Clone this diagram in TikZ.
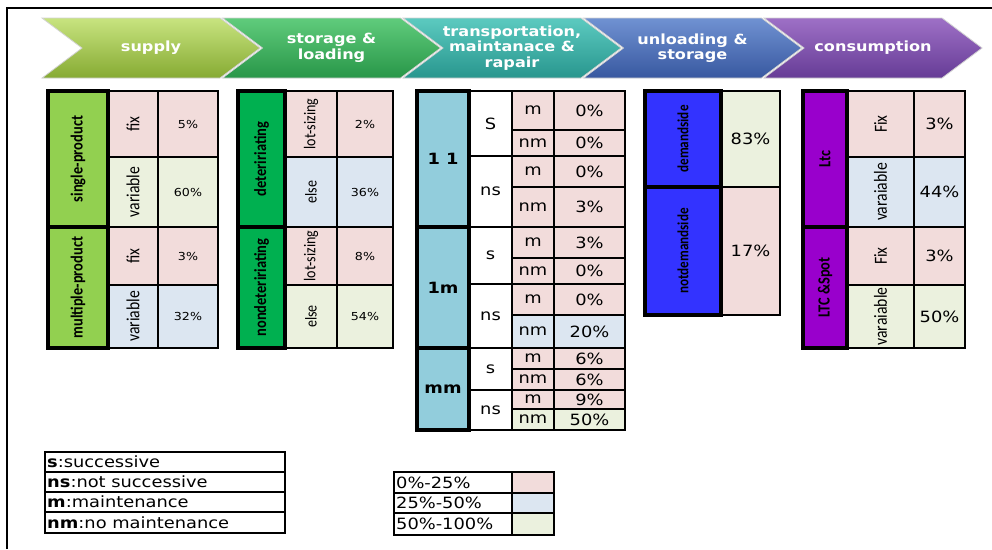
\documentclass[tikz,border=0pt]{standalone}
\usepackage{fontspec}
\setmainfont{DejaVu Sans}[FakeStretch=1.15]
\newfontfamily\calibri{Carlito}[FakeStretch=0.85]
\usetikzlibrary{calc}

\definecolor{lowc}{RGB}{242, 220, 219}
\definecolor{midc}{RGB}{220, 230, 241}
\definecolor{highc}{RGB}{235, 241, 222}
\definecolor{supplyc}{RGB}{146, 208, 80}
\definecolor{storagec}{RGB}{0, 176, 80}
\definecolor{transc}{RGB}{146, 205, 220}
\definecolor{unloadc}{RGB}{51, 51, 255}
\definecolor{consc}{RGB}{153, 0, 204}
\definecolor{chev1top}{RGB}{200, 228, 128}
\definecolor{chev1bot}{RGB}{134, 170, 50}
\definecolor{chev2top}{RGB}{96, 204, 124}
\definecolor{chev2bot}{RGB}{40, 150, 72}
\definecolor{chev3top}{RGB}{92, 202, 192}
\definecolor{chev3bot}{RGB}{40, 150, 142}
\definecolor{chev4top}{RGB}{112, 146, 210}
\definecolor{chev4bot}{RGB}{56, 88, 160}
\definecolor{chev5top}{RGB}{158, 112, 198}
\definecolor{chev5bot}{RGB}{102, 60, 150}

% one table cell: fill, border and a named text node in its centre
\newcommand{\tabcell}[6][]{%
  \draw[grid, fill=#5] (#3) rectangle (#4);
  \node[#1] (#2) at ($(#3)!0.5!(#4)$) {#6};}

\begin{document}
\begin{tikzpicture}[x=1pt, y=-1pt,
    grid/.style={line width=2.4pt, draw=black},
    catline/.style={line width=4.5pt, draw=black},
    cattext/.style={rotate=90, inner sep=0pt, font=\calibri\bfseries\fontsize{17}{17}\selectfont},
    subtext/.style={rotate=90, inner sep=0pt, font=\calibri\fontsize{18.5}{18.5}\selectfont},
    smallsub/.style={subtext, font=\calibri\fontsize{16.5}{16.5}\selectfont},
    smallval/.style={inner sep=0pt, font=\fontsize{11}{12}\selectfont},
    valtext/.style={inner sep=0pt, font=\fontsize{15.5}{15.5}\selectfont},
    boldtext/.style={inner sep=0pt, font=\bfseries\fontsize{15.5}{15.5}\selectfont},
    legtext/.style={anchor=west, inner sep=0pt, font=\fontsize{15.5}{15.5}\selectfont},
    stagetext/.style={text=white, align=center, inner sep=0pt, font=\bfseries\fontsize{14}{15.5}\selectfont}]
    \useasboundingbox (0,0) rectangle (992,549);
    \draw[line width=1.5pt] (7,549) -- (7,8) -- (992,8);

    % process chevrons
    \foreach \i/\L/\txt in {1/42/supply, 2/222.5/{storage \&\\loading},
        3/403/{transportation,\\maintanace \&\\rapair}, 4/583.5/{unloading \&\\storage},
        5/764/consumption}{
      \shade[top color=chev\i top, bottom color=chev\i bot, draw=gray!35, line width=0.8pt]
        (\L,18) -- ++(178,0) -- ++(40,30) -- ++(-40,30) -- ++(-178,0) -- ++(40,-30) -- cycle;
      \node[stagetext] (stage\i) at (\L+109,48) {\txt};
    }

    % supply
    \tabcell[subtext]{sfix}{108,91}{158,157}{lowc}{fix}
    \tabcell[smallval]{sfixv}{158,91}{218,157}{lowc}{5\%}
    \tabcell[subtext]{svar}{108,157}{158,227}{highc}{variable}
    \tabcell[smallval]{svarv}{158,157}{218,227}{highc}{60\%}
    \tabcell[subtext]{mfix}{108,227}{158,285}{lowc}{fix}
    \tabcell[smallval]{mfixv}{158,227}{218,285}{lowc}{3\%}
    \tabcell[subtext]{mvar}{108,285}{158,348}{midc}{variable}
    \tabcell[smallval]{mvarv}{158,285}{218,348}{midc}{32\%}
    \tabcell[cattext]{single}{48,91}{108,227}{supplyc}{single-product}
    \tabcell[cattext]{multiple}{48,227}{108,348}{supplyc}{multiple-product}
    \draw[catline] (48,91) rectangle (108,227) (48,227) rectangle (108,348);

    % storage & loading
    \tabcell[smallsub]{dlot}{285,91}{337,157}{lowc}{lot-sizing}
    \tabcell[smallval]{dlotv}{337,91}{393,157}{lowc}{2\%}
    \tabcell[smallsub]{delse}{285,157}{337,227}{midc}{else}
    \tabcell[smallval]{delsev}{337,157}{393,227}{midc}{36\%}
    \tabcell[smallsub]{nlot}{285,227}{337,285}{lowc}{lot-sizing}
    \tabcell[smallval]{nlotv}{337,227}{393,285}{lowc}{8\%}
    \tabcell[smallsub]{nelse}{285,285}{337,348}{highc}{else}
    \tabcell[smallval]{nelsev}{337,285}{393,348}{highc}{54\%}
    \tabcell[cattext]{deter}{238,91}{285,227}{storagec}{deteririating}
    \tabcell[cattext]{nondeter}{238,227}{285,348}{storagec}{nondeteririating}
    \draw[catline] (238,91) rectangle (285,227) (238,227) rectangle (285,348);

    % transportation, maintanace & repair
    \foreach \ya/\yb/\mm/\v/\c [count=\k] in {91/130/m/0/lowc, 130/156/nm/0/lowc,
        156/187/m/0/lowc, 187/227/nm/3/lowc, 227/258/m/3/lowc, 258/284/nm/0/lowc,
        284/315/m/0/lowc, 315/348/nm/20/midc, 348/369/m/6/lowc, 369/390/nm/6/lowc,
        390/409/m/9/lowc, 409/430/nm/50/highc}{
      \tabcell[valtext]{tm\k}{512,\ya}{554,\yb}{\c}{\mm}
      \tabcell[valtext]{tv\k}{554,\ya}{625,\yb}{\c}{\v\%}
    }
    \foreach \ya/\yb/\s [count=\k] in {91/156/S, 156/227/ns, 227/284/s,
        284/348/ns, 348/390/s, 390/430/ns}{
      \tabcell[valtext]{ts\k}{469,\ya}{512,\yb}{white}{\s}
    }
    \tabcell[boldtext]{one}{417,91}{469,227}{transc}{1 1}
    \tabcell[boldtext]{onem}{417,227}{469,348}{transc}{1m}
    \tabcell[boldtext]{mm}{417,348}{469,430}{transc}{mm}
    \draw[catline] (417,91) rectangle (469,227) (417,227) rectangle (469,348)
        (417,348) rectangle (469,430);

    % unloading & storage
    \tabcell[valtext]{demv}{721,91}{780,187}{highc}{83\%}
    \tabcell[valtext]{ndemv}{721,187}{780,315}{lowc}{17\%}
    \tabcell[cattext, font=\calibri\bfseries\fontsize{15.5}{15.5}\selectfont]{dem}{645,91}{721,187}{unloadc}{demandside}
    \tabcell[cattext, font=\calibri\bfseries\fontsize{15.5}{15.5}\selectfont]{ndem}{645,187}{721,315}{unloadc}{notdemandside}
    \draw[catline] (645,91) rectangle (721,187) (645,187) rectangle (721,315);

    % consumption
    \tabcell[subtext]{lfix}{847,91}{914,157}{lowc}{Fix}
    \tabcell[valtext]{lfixv}{914,91}{965,157}{lowc}{3\%}
    \tabcell[subtext]{lvar}{847,157}{914,227}{midc}{varaiable}
    \tabcell[valtext]{lvarv}{914,157}{965,227}{midc}{44\%}
    \tabcell[subtext]{sfix2}{847,227}{914,285}{lowc}{Fix}
    \tabcell[valtext]{sfix2v}{914,227}{965,285}{lowc}{3\%}
    \tabcell[subtext]{svar2}{847,285}{914,348}{highc}{varaiable}
    \tabcell[valtext]{svar2v}{914,285}{965,348}{highc}{50\%}
    \tabcell[cattext]{ltc}{803,91}{847,227}{consc}{Ltc}
    \tabcell[cattext]{ltcspot}{803,227}{847,348}{consc}{LTC \&Spot}
    \draw[catline] (803,91) rectangle (847,227) (803,227) rectangle (847,348);

    % legends
    \foreach \ya/\yb/\key/\txt [count=\k] in {452/472/s/successive, 472/492/ns/not successive,
        492/512/m/maintenance, 512/533/nm/no maintenance}{
      \draw[grid] (45,\ya) rectangle (285,\yb);
      \node[legtext] (key\k) at (47,{(\ya+\yb)/2}) {\textbf{\key}:\txt};
    }
    \foreach \ya/\yb/\txt/\c [count=\k] in {472/493/0\%-25\%/lowc, 493/513/25\%-50\%/midc,
        513/535/50\%-100\%/highc}{
      \draw[grid] (394,\ya) rectangle (512,\yb);
      \node[legtext] (range\k) at (396,{(\ya+\yb)/2}) {\txt};
      \draw[grid, fill=\c] (512,\ya) rectangle (554,\yb);
    }
\end{tikzpicture}
\end{document}
